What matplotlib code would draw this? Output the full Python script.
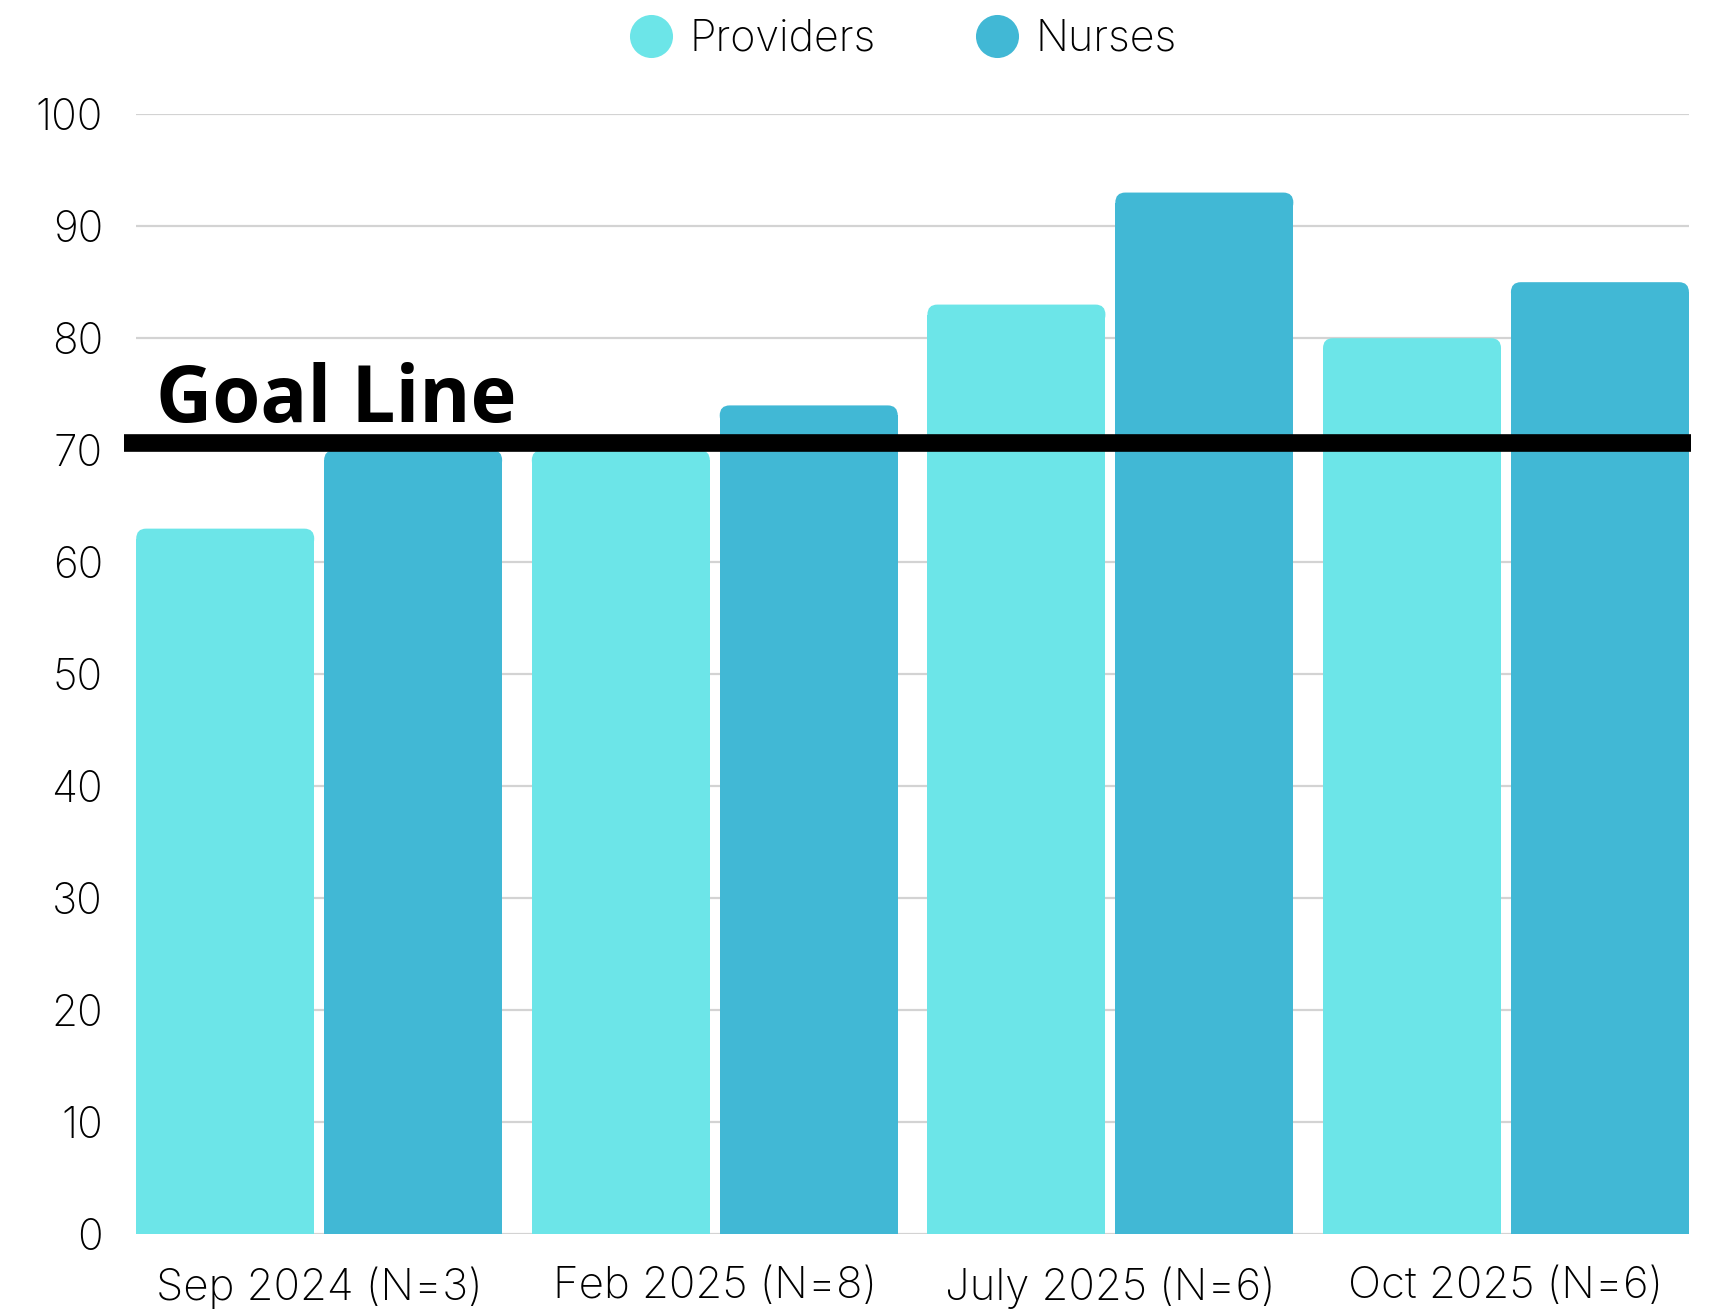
import numpy as np
import matplotlib.pyplot as plt
from matplotlib.lines import Line2D
from matplotlib.patches import FancyBboxPatch

periods = ["Sep 2024 (N=3)", "Feb 2025 (N=8)", "July 2025 (N=6)", "Oct 2025 (N=6)"]
providers = [63, 70, 83, 80]
nurses = [70, 74, 93, 85]
goal = 70.6
yticks = [0, 10, 20, 30, 40, 50, 60, 70, 80, 90, 100]

c_prov = "#6CE5E8"
c_nurse = "#41B8D5"
label_font = ["Inter", "DejaVu Sans"]

fig = plt.figure(figsize=(17.22, 13.15), dpi=100)
ax = fig.add_axes([0.0791, 0.0613, 0.9017, 0.8519])

x = np.arange(len(periods))
w = 0.45
off = 0.2375
rx, ry = 0.025, 0.9  # corner radius in x / y data units


def rounded_bars(xs, vals, color):
    # square-bottomed bar plus a rounded cap on top
    bars = ax.bar(xs, np.array(vals) - ry, width=w, color=color, zorder=2)
    for b, v in zip(bars, vals):
        cap = FancyBboxPatch((b.get_x(), v - 2 * ry), w, 2 * ry,
                             boxstyle="round,pad=0,rounding_size=%f" % rx,
                             mutation_aspect=ry / rx, fc=color, ec="none",
                             zorder=2)
        ax.add_patch(cap)


rounded_bars(x - off, providers, c_prov)
rounded_bars(x + off, nurses, c_nurse)

ax.set_xlim(-0.4625, 3.4625)
ax.set_ylim(0, 100)
ax.set_yticks(yticks)
ax.set_yticklabels([str(t) for t in yticks], fontsize=30.5, family=label_font,
                   fontweight="light", color="black")
ax.set_xticks(x)
ax.set_xticklabels(periods, fontsize=31.5, family=label_font,
                   fontweight="light", color="black")
ax.tick_params(axis="y", length=0, pad=24)
ax.tick_params(axis="x", length=0, pad=23)
ax.grid(axis="y", color="#D3D3D3", linewidth=1.6, zorder=0)
ax.set_axisbelow(True)
for s in ax.spines.values():
    s.set_visible(False)

# goal line runs a little past the left edge of the plot
ax.plot([-0.008, 1.0015], [goal, goal], transform=ax.get_yaxis_transform(),
        color="black", linewidth=12.7, solid_capstyle="butt", clip_on=False,
        zorder=5)
ax.text(0.013, 72.5, "Goal Line", transform=ax.get_yaxis_transform(),
        fontsize=56, fontweight="bold", family=["Open Sans", "DejaVu Sans"],
        va="baseline", ha="left", zorder=6)

handles = [Line2D([], [], marker="o", linestyle="none", markersize=31,
                  markerfacecolor=c_prov, markeredgecolor="none", label="Providers"),
           Line2D([], [], marker="o", linestyle="none", markersize=31,
                  markerfacecolor=c_nurse, markeredgecolor="none", label="Nurses")]
fig.legend(handles=handles, loc="center", bbox_to_anchor=(0.522, 0.97), ncol=2,
           frameon=False, prop={"family": label_font, "size": 31, "weight": "light"},
           handlelength=1.4, handletextpad=0.2, columnspacing=2.1)

fig.savefig("out.png", dpi=100, facecolor="white")
